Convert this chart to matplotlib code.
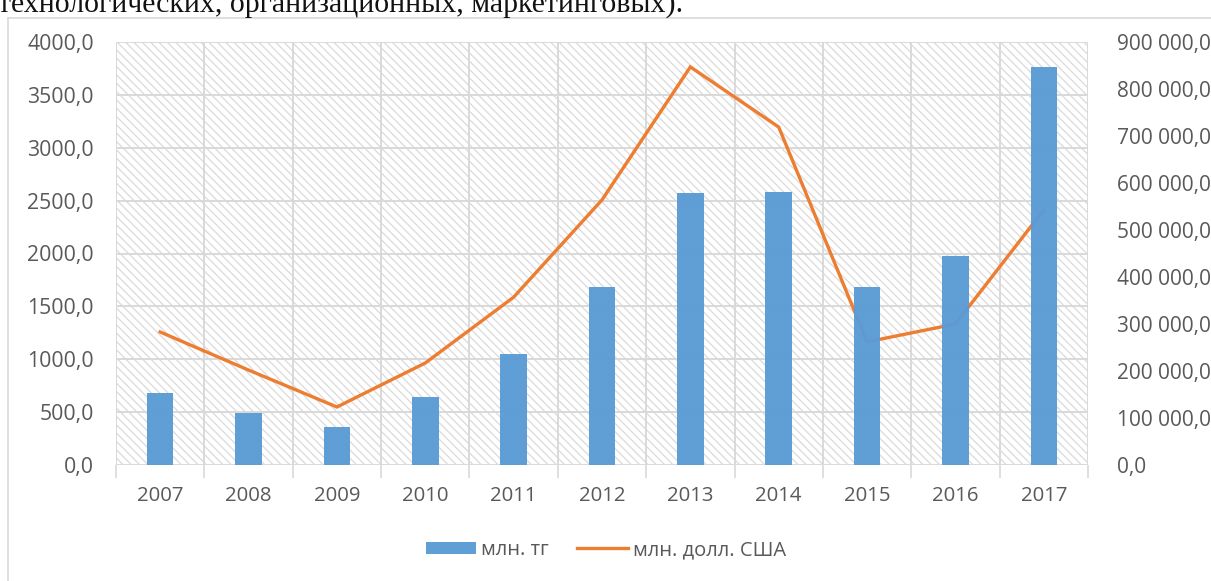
import matplotlib
matplotlib.use("Agg")
import matplotlib.pyplot as plt
from matplotlib.patches import Rectangle
from matplotlib.lines import Line2D
from matplotlib.ticker import FuncFormatter, FixedLocator, MultipleLocator
import numpy as np

years = ["2007", "2008", "2009", "2010", "2011", "2012", "2013", "2014", "2015", "2016", "2017"]
mln_tg = [681, 492, 359, 643, 1050, 1683, 2572, 2582, 1683, 1976, 3764]
mln_usd = [283000, 202000, 123400, 217000, 357000, 564000, 847000, 719000, 262000, 300000, 543000]
label_tg = "млн. тг"
label_usd = "млн. долл. США"
header = "технологических, организационных, маркетинговых)."

plt.rcParams['hatch.linewidth'] = 0.9
FONT = "Open Sans"
TXT = "#595959"
GRID = "#d9d9d9"
BLUE = "#5B9BD5"
ORANGE = "#ED7D31"

fig = plt.figure(figsize=(12.11, 5.81), dpi=100)
W, H = 1211, 581

# chart frame (left and top border)
fig.add_artist(Line2D([8 / W, 8 / W], [0, 1 - 18 / H], color="#d9d9d9", lw=1.2, transform=fig.transFigure))
fig.add_artist(Line2D([8 / W, 1], [1 - 18 / H, 1 - 18 / H], color="#d9d9d9", lw=1.2, transform=fig.transFigure))

# header text (clipped at top in original)
fig.text(-2 / W, 1 - 12 / H, header, fontsize=21.5, family="Liberation Serif",
         ha="left", va="baseline", color="#111111")

left, right, bottom, top = 116 / W, 1088 / W, 1 - 465 / H, 1 - 42 / H
pos = [left, bottom, right - left, top - bottom]

ax = fig.add_axes(pos)
x = np.arange(len(years))
ax.set_xlim(-0.5, len(years) - 0.5)
ax.set_ylim(0, 4000)

# hatched background
ax.add_patch(Rectangle((0, 0), 1, 1, transform=ax.transAxes, facecolor="white",
                       edgecolor="#dadada", hatch="\\\\\\\\", lw=0, zorder=0))
ax.patch.set_visible(False)

ax.yaxis.set_major_locator(MultipleLocator(500))
ax.yaxis.set_major_formatter(FuncFormatter(lambda v, p: f"{v:.1f}".replace(".", ",")))
ax.set_xticks(x)
ax.set_xticklabels(years)
ax.xaxis.set_minor_locator(FixedLocator(np.arange(-0.5, len(years), 1.0)))
ax.tick_params(axis="x", which="major", length=0, pad=15, labelsize=14.7, labelcolor=TXT)
ax.tick_params(axis="x", which="minor", length=9, width=1.2, color=GRID, direction="out")
ax.tick_params(axis="y", length=0, pad=16, labelsize=15.3, labelcolor=TXT)
ax.grid(True, axis="y", color=GRID, lw=1.4, zorder=1)
ax.grid(True, axis="x", which="minor", color=GRID, lw=1.4, zorder=1)
ax.set_axisbelow(True)
for s in ax.spines.values():
    s.set_visible(False)
for lab in ax.get_xticklabels() + ax.get_yticklabels():
    lab.set_family(FONT)

ax2 = ax.twinx()
ax2.set_ylim(0, 900000)
ax2.yaxis.set_major_locator(MultipleLocator(100000))
ax2.yaxis.set_major_formatter(FuncFormatter(
    lambda v, p: f"{v:,.1f}".replace(",", " ").replace(".", ",")))
ax2.tick_params(axis="y", length=0, pad=21, labelsize=15, labelcolor=TXT)
for lab in ax2.get_yticklabels():
    lab.set_family(FONT)
for s in ax2.spines.values():
    s.set_visible(False)
line, = ax2.plot(x, mln_usd, color=ORANGE, lw=2.4, solid_joinstyle="miter", label=label_usd, zorder=3)

ax3 = fig.add_axes(pos, sharex=ax, sharey=ax)
ax3.patch.set_visible(False)
ax3.axis("off")
bars = ax3.bar(x, mln_tg, width=0.3, color=BLUE, label=label_tg, zorder=3, alpha=0.97)

leg = fig.legend([bars, line], [label_tg, label_usd], loc="center",
                 bbox_to_anchor=(606 / W, 1 - 550 / H), ncol=2, frameon=False,
                 prop={"family": FONT, "size": 14.5}, handlelength=2.5, handleheight=0.6,
                 handletextpad=0.25, columnspacing=1.4, labelcolor=TXT)

fig.savefig("out.png", dpi=100)
